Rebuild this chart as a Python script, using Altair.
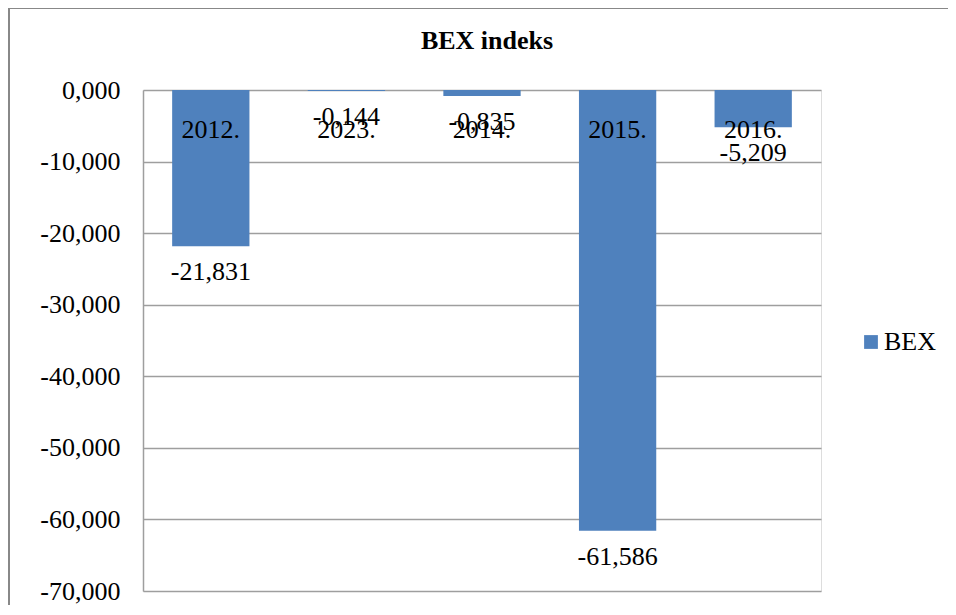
import altair as alt
import pandas as pd

years = ["2012.", "2023.", "2014.", "2015.", "2016."]
bex = [-21.831, -0.144, -0.835, -61.586, -5.209]
y_ticks = [0, -10, -20, -30, -40, -50, -60, -70]
series_name = "BEX"
chart_title = "BEX indeks"

df = pd.DataFrame({"year": years, "value": bex, "series": series_name})
df["label"] = [f"{v:.3f}".replace(".", ",") for v in bex]

FONT = "'Liberation Serif', 'Times New Roman', Times, serif"
GRID = "#9E9E9E"
BLUE = "#4F81BD"

x_enc = alt.X("year:N", sort=years, axis=None,
              scale=alt.Scale(paddingInner=0.43, paddingOuter=0.215))
y_enc = alt.Y(
    "value:Q",
    scale=alt.Scale(domain=[-70, 0], nice=False, zero=False),
    axis=alt.Axis(
        values=y_ticks, title=None, grid=True, gridColor=GRID, gridWidth=1.5,
        domain=True, domainColor=GRID, domainWidth=1.5, ticks=False,
        labelPadding=23, labelFont=FONT, labelFontSize=26, labelColor="black",
        labelExpr="replace(replace(format(datum.value, '.3f'), '.', ','), '\u2212', '-')",
    ),
)

base = alt.Chart(df)

bars = base.mark_bar().encode(
    x=x_enc,
    y=y_enc,
    color=alt.Color(
        "series:N",
        scale=alt.Scale(range=[BLUE]),
        legend=alt.Legend(
            title=None, orient="none", legendX=715, legendY=239,
            symbolType="square", symbolSize=190, symbolStrokeWidth=0,
            symbolOpacity=1, labelFont=FONT, labelFontSize=26,
            labelColor="black", labelOffset=0,
        ),
    ),
)

cat_labels = base.mark_text(font=FONT, fontSize=26, dy=40, baseline="middle",
                            color="black").encode(
    x=x_enc, y=alt.datum(0), text="year:N"
)

val_labels = base.mark_text(font=FONT, fontSize=26, dy=26, baseline="middle",
                            color="black").encode(
    x=x_enc, y="value:Q", text="label:N"
)

frame_data = alt.Data(values=[{"k": 1}])
frame_left = alt.Chart(frame_data).mark_rule(color="#888888", strokeWidth=2).encode(
    x=alt.value(-134), y=alt.value(-82), y2=alt.value(700)
)
frame_top = alt.Chart(frame_data).mark_rule(color="#888888", strokeWidth=2).encode(
    x=alt.value(-134), x2=alt.value(900), y=alt.value(-82)
)

chart = alt.layer(frame_left, frame_top, bars, cat_labels, val_labels).properties(
    width=678,
    height=501,
    autosize=alt.AutoSizeParams(type="none"),
    padding={"left": 135, "top": 82, "right": 127, "bottom": 14},
    title=alt.TitleParams(chart_title, font=FONT, fontSize=26, fontWeight="bold",
                          anchor="middle", frame="group", offset=0, dy=47, dx=5,
                          color="black"),
).configure_view(stroke=None).configure(background="white")

chart.save("out.html", embed_options={"renderer": "svg", "actions": False})
